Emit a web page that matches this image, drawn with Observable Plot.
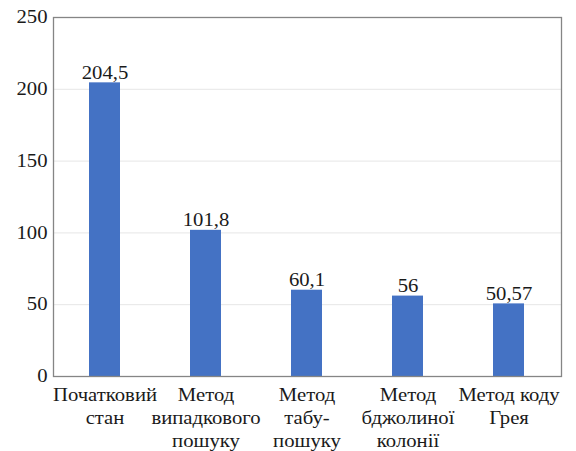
<!DOCTYPE html>
<html>
<head>
<meta charset="utf-8">
<script src="https://cdn.jsdelivr.net/npm/d3@7"></script>
<script src="https://cdn.jsdelivr.net/npm/@observablehq/plot@0.6"></script>
<style>
  html, body { margin: 0; padding: 0; background: #fff; }
  #chart svg { display: block; }
</style>
</head>
<body>
<div id="chart"></div>
<script>
// Categories (multi-line labels) and their values
const methods = [
  "Початковий\nстан",
  "Метод\nвипадкового\nпошуку",
  "Метод\nтабу-\nпошуку",
  "Метод\nбджолиної\nколонії",
  "Метод коду\nГрея"
];
const values = [204.5, 101.8, 60.1, 56, 50.57];
const yTicks = [0, 50, 100, 150, 200, 250];

const data = methods.map((m, i) => ({method: m, value: values[i]}));
const fmt = v => String(v).replace(".", ",");

const serif = "Liberation Serif";

const chart = Plot.plot({
  width: 576,
  height: 451,
  marginLeft: 53,
  marginTop: 17,
  marginRight: 15,
  marginBottom: 75,
  style: {background: "#fff", color: "#1a1a1a"},
  x: {domain: methods, paddingInner: 0.69, paddingOuter: 0.345, label: null},
  y: {domain: [0, 250], label: null},
  marks: [
    Plot.gridY(yTicks.filter(d => d > 0 && d < 250), {stroke: "#e6e6e6", strokeOpacity: 1}),
    Plot.barY(data, {x: "method", y: "value", fill: "#4472c4"}),
    Plot.text(data, {
      x: "method", y: "value", text: d => fmt(d.value),
      lineAnchor: "bottom", dy: -4, fontSize: 18, fontFamily: serif, fill: "#1a1a1a"
    }),
    Plot.frame({stroke: "#858585", strokeWidth: 1.3}),
    Plot.axisY({ticks: yTicks, tickSize: 0, tickPadding: 6, fontSize: 18, fontFamily: serif, label: null}),
    Plot.axisX({tickSize: 0, tickPadding: 8, fontSize: 18, fontFamily: serif, lineHeight: 1.28, label: null})
  ]
});

// The serif face is set slightly wide: stretch every label horizontally about its anchor
d3.select(chart).selectAll("text").attr("transform", function () {
  return (this.getAttribute("transform") || "") + " scale(1.15,1)";
});

document.getElementById("chart").appendChild(chart);
</script>
</body>
</html>
